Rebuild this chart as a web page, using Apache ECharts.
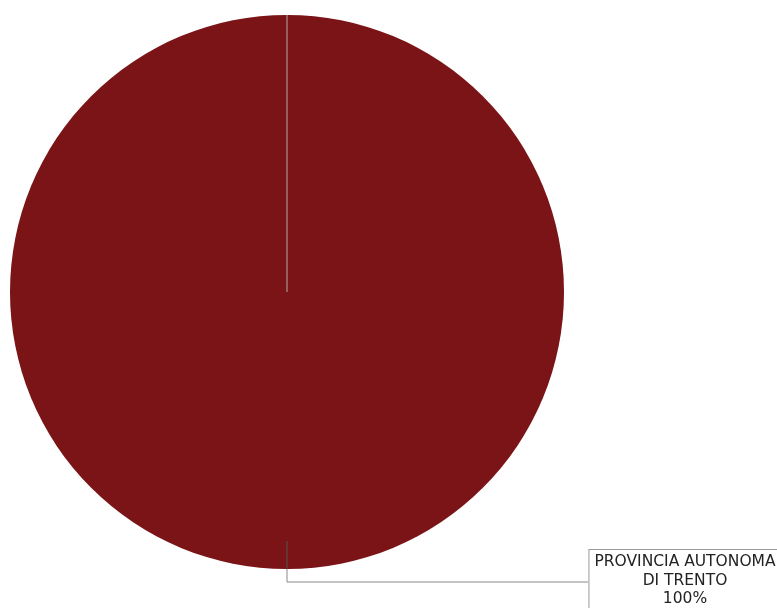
<!DOCTYPE html>
<html><head><meta charset="utf-8">
<script src="https://cdn.jsdelivr.net/npm/echarts@6/dist/echarts.min.js"></script>
<style>html,body{margin:0;padding:0;background:#fff}#c{width:777px;height:608px}</style>
</head><body><div id="c"></div>
<script>
const categories = ["PROVINCIA AUTONOMA\nDI TRENTO"];
const values = [100];
const colors = ['#7a1417'];

const cx = 287, cy = 292, r = 277;
const chart = echarts.init(document.getElementById('c'));
chart.setOption({
  animation: false,
  color: colors,
  graphic: [{
    type: 'line', z: 10,
    shape: { x1: cx, y1: cy, x2: cx, y2: cy - r },
    style: { stroke: '#b0a8a8', lineWidth: 1 }
  }, {
    type: 'line', z: 10,
    shape: { x1: cx, y1: cy + r - 28, x2: cx, y2: cy + r },
    style: { stroke: '#555', lineWidth: 1 }
  }],
  series: [{
    type: 'pie',
    center: [cx, cy],
    radius: [0, r],
    startAngle: 90,
    clockwise: true,
    data: categories.map((c, i) => ({ name: c, value: values[i] })),
    itemStyle: { borderWidth: 0 },
    label: {
      show: true,
      formatter: p => p.name + '\n' + Math.round(p.percent) + '%',
      fontFamily: 'DejaVu Sans',
      fontSize: 15.5,
      lineHeight: 18.5,
      color: '#222',
      backgroundColor: '#fff',
      borderColor: '#999',
      borderWidth: 1,
      padding: [3, 5, 2, 5],
      align: 'center'
    },
    labelLine: { show: true, showAbove: true, lineStyle: { color: '#888', width: 1 } },
    labelLayout: function (p) {
      return {
        x: 685, y: 550,
        align: 'center', verticalAlign: 'top',
        labelLinePoints: [[cx, cy + r - 28], [cx, cy + r + 13], [588, cy + r + 13]]
      };
    },
    emphasis: { disabled: true }
  }]
});
</script></body></html>
